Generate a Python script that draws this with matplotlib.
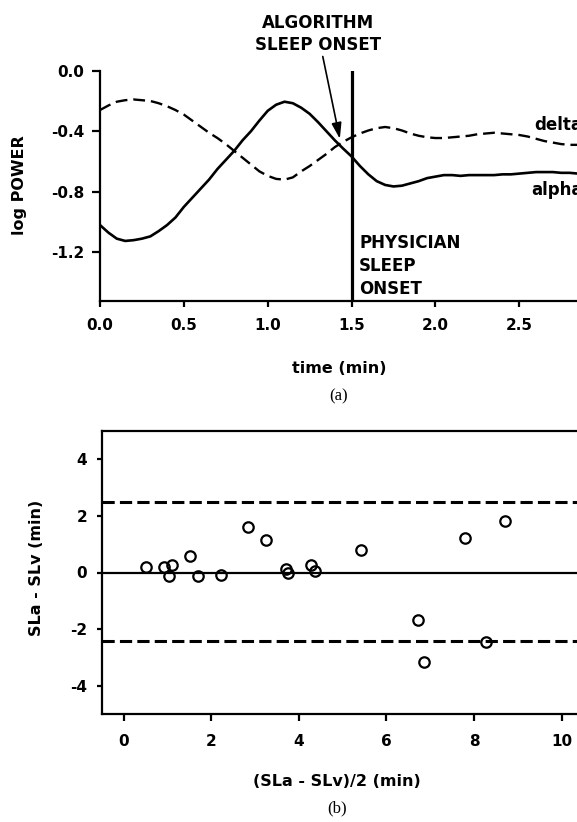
import matplotlib
matplotlib.use('Agg')
import matplotlib.pyplot as plt

# panel (a): log power vs time
time_min = [0.00, 0.05, 0.10, 0.15, 0.20, 0.25, 0.30, 0.35, 0.40, 0.45,
            0.50, 0.55, 0.60, 0.65, 0.70, 0.75, 0.80, 0.85, 0.90, 0.95,
            1.00, 1.05, 1.10, 1.15, 1.20, 1.25, 1.30, 1.35, 1.40, 1.45,
            1.50, 1.55, 1.60, 1.65, 1.70, 1.75, 1.80, 1.85, 1.90, 1.95,
            2.00, 2.05, 2.10, 2.15, 2.20, 2.25, 2.30, 2.35, 2.40, 2.45,
            2.50, 2.55, 2.60, 2.65, 2.70, 2.75, 2.80, 2.85]
alpha = [-1.02, -1.07, -1.11, -1.125, -1.12, -1.11, -1.095, -1.06, -1.02, -0.97,
         -0.90, -0.84, -0.78, -0.72, -0.65, -0.59, -0.53, -0.46, -0.40, -0.33,
         -0.265, -0.225, -0.205, -0.215, -0.245, -0.285, -0.34, -0.40, -0.46, -0.515,
         -0.567, -0.63, -0.685, -0.73, -0.755, -0.765, -0.76, -0.745, -0.73, -0.71,
         -0.70, -0.69, -0.69, -0.695, -0.69, -0.69, -0.69, -0.69, -0.685, -0.685,
         -0.68, -0.675, -0.67, -0.67, -0.67, -0.675, -0.675, -0.68]
delta = [-0.26, -0.23, -0.205, -0.195, -0.19, -0.195, -0.20, -0.215, -0.235, -0.26,
         -0.29, -0.33, -0.37, -0.41, -0.445, -0.485, -0.53, -0.575, -0.62, -0.665,
         -0.695, -0.715, -0.72, -0.705, -0.665, -0.63, -0.59, -0.55, -0.505, -0.47,
         -0.44, -0.415, -0.395, -0.38, -0.372, -0.38, -0.395, -0.415, -0.43, -0.44,
         -0.445, -0.445, -0.44, -0.435, -0.43, -0.42, -0.415, -0.41, -0.415, -0.42,
         -0.425, -0.435, -0.45, -0.465, -0.475, -0.485, -0.49, -0.49]
physician_onset = 1.5
algorithm_onset = (1.43, -0.45)

# panel (b): Bland-Altman style scatter
mean_sl = [0.51, 0.93, 1.10, 1.04, 1.52, 1.71, 2.22, 2.84, 3.26, 3.70,
           3.76, 4.29, 4.37, 5.42, 6.72, 6.86, 7.79, 8.27, 8.70]
diff_sl = [0.18, 0.21, 0.27, -0.12, 0.59, -0.12, -0.08, 1.61, 1.14, 0.12,
           -0.02, 0.27, 0.04, 0.80, -1.68, -3.15, 1.20, -2.45, 1.80]
upper_limit = 2.5
lower_limit = -2.42

plt.rcParams['axes.unicode_minus'] = False
plt.rcParams['font.family'] = 'DejaVu Sans'

W, H = 577, 822
fig = plt.figure(figsize=(W / 100, H / 100), dpi=100)


def px(x, y):
    return x / W, 1 - y / H


# ---- top panel
ax1 = fig.add_axes([100 / W, 1 - 300.7 / H, 478 / W, 230 / H])
ax1.plot(time_min, delta, color='black', lw=1.7, dashes=(5, 2.5))
ax1.plot(time_min, alpha, color='black', lw=1.9)
ax1.axvline(physician_onset, color='black', lw=2.3)
ax1.set_xlim(0, 2.85)
ax1.set_ylim(-1.52, 0.0)
ax1.set_xticks([0.0, 0.5, 1.0, 1.5, 2.0, 2.5])
ax1.set_xticklabels(['%.1f' % v for v in [0.0, 0.5, 1.0, 1.5, 2.0, 2.5]])
ax1.set_yticks([-1.2, -0.8, -0.4, 0.0])
ax1.set_yticklabels(['%.1f' % v for v in [-1.2, -0.8, -0.4, 0.0]])
for s in ['top', 'right']:
    ax1.spines[s].set_visible(False)
for s in ['left', 'bottom']:
    ax1.spines[s].set_linewidth(1.6)
ax1.tick_params(axis='y', length=5.5, width=1.6, pad=6, labelsize=11)
ax1.tick_params(axis='x', length=4.5, width=1.6, pad=8, labelsize=11)
for lab in ax1.get_xticklabels() + ax1.get_yticklabels():
    lab.set_fontweight('bold')

ax1.annotate('ALGORITHM\nSLEEP ONSET', xy=algorithm_onset, xytext=(1.30, 0.245),
             ha='center', va='center', fontsize=12, fontweight='bold',
             linespacing=1.3, annotation_clip=False,
             arrowprops=dict(arrowstyle='-|>,head_length=0.8,head_width=0.25',
                             color='black', lw=1.2, shrinkA=0, shrinkB=0))
ax1.text(1.545, -1.292, 'PHYSICIAN\nSLEEP\nONSET', ha='left', va='center',
         fontsize=12, fontweight='bold', linespacing=1.35)
ax1.text(2.59, -0.358, 'delta', ha='left', va='center', fontsize=12, fontweight='bold')
ax1.text(2.57, -0.79, 'alpha', ha='left', va='center', fontsize=12, fontweight='bold')

fig.text(*px(20, 185), 'log POWER', rotation=90, ha='center', va='center',
         fontsize=11.5, fontweight='bold')
fig.text(*px(339, 368), 'time (min)', ha='center', va='center',
         fontsize=11.5, fontweight='bold')
fig.text(*px(339, 396), '(a)', ha='center', va='center',
         fontsize=12, family='Liberation Serif')

# ---- bottom panel
ax2 = fig.add_axes([101.7 / W, 1 - 714.3 / H, 477.4 / W, 283.6 / H])
ax2.axhline(0, color='black', lw=1.6)
ax2.axhline(upper_limit, color='black', lw=2.2, dashes=(4, 1.7))
ax2.axhline(lower_limit, color='black', lw=2.2, dashes=(4, 1.7))
ax2.plot(mean_sl, diff_sl, 'o', mfc='none', mec='black', ms=7.5, mew=1.6)
ax2.set_xlim(-0.5, 10.4)
ax2.set_ylim(-5, 5)
ax2.set_xticks([0, 2, 4, 6, 8, 10])
ax2.set_yticks([-4, -2, 0, 2, 4])
ax2.spines['right'].set_visible(False)
for s in ['left', 'bottom', 'top']:
    ax2.spines[s].set_linewidth(1.6)
ax2.tick_params(axis='y', length=3.5, width=1.6, pad=7, labelsize=11)
ax2.tick_params(axis='x', length=5, width=1.6, pad=9, labelsize=11)
for lab in ax2.get_xticklabels() + ax2.get_yticklabels():
    lab.set_fontweight('bold')

fig.text(*px(37, 568), 'SLa - SLv (min)', rotation=90, ha='center', va='center',
         fontsize=11.5, fontweight='bold')
fig.text(*px(337, 781), '(SLa - SLv)/2 (min)', ha='center', va='center',
         fontsize=11.5, fontweight='bold')
fig.text(*px(337, 808), '(b)', ha='center', va='center',
         fontsize=12, family='Liberation Serif')

fig.savefig('out.png', dpi=100, facecolor='white')
